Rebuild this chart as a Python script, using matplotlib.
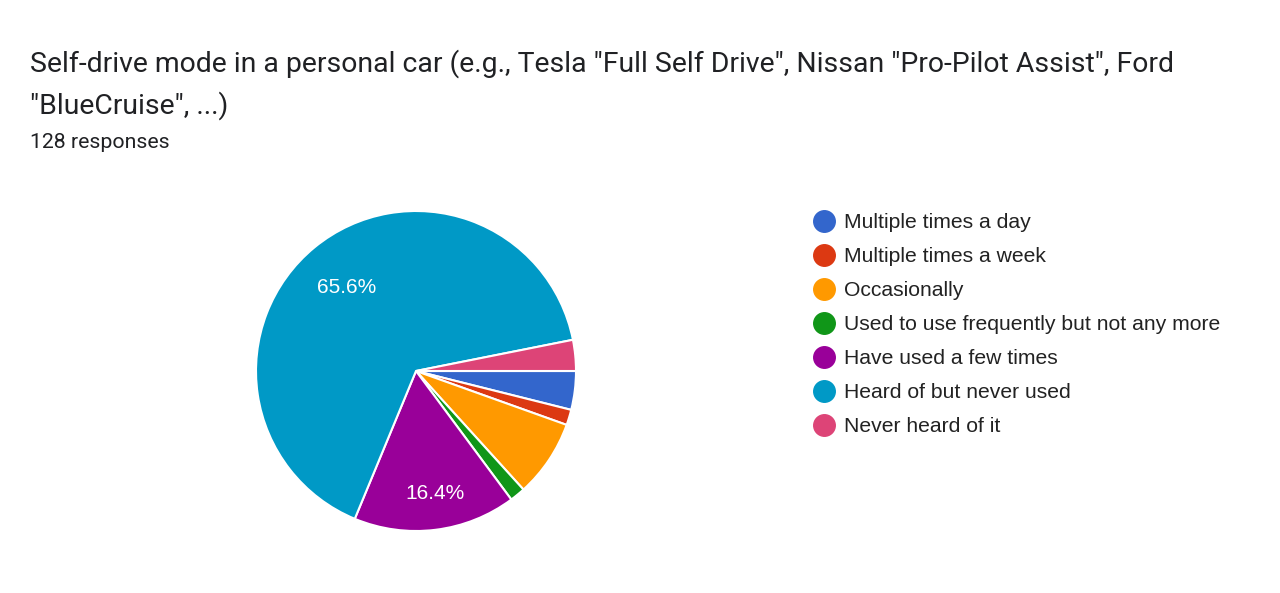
import numpy as np
import matplotlib.pyplot as plt

plt.rcParams['font.family'] = ['Liberation Sans', 'DejaVu Sans']

# survey answers (128 responses)
labels = ['Multiple times a day', 'Multiple times a week', 'Occasionally',
          'Used to use frequently but not any more', 'Have used a few times',
          'Heard of but never used', 'Never heard of it']
counts = [5, 2, 10, 2, 21, 84, 4]
colors = ['#3366cc', '#dc3912', '#ff9900', '#109618', '#990099', '#0099c6', '#dd4477']

W, H = 1280, 593
fig = plt.figure(figsize=(W / 100, H / 100), dpi=100)

# pie centre ~ (416, 371) px, radius 160 px
cx, cy, r = 416, 371, 160
ax = fig.add_axes([(cx - r) / W, (H - cy - r) / H, 2 * r / W, 2 * r / H])

def pct(p):
    return '%.1f%%' % p if p > 10 else ''

wedges, texts, autotexts = ax.pie(counts, colors=colors, startangle=0, counterclock=False,
                                  autopct=pct, pctdistance=0.73,
                                  wedgeprops=dict(edgecolor='white', linewidth=1.5),
                                  textprops=dict(color='white', fontsize=15))
for t in autotexts:
    x, y = t.get_position()
    t.set_position((x + 0.03, y - 0.04))
ax.set_xlim(-1, 1)
ax.set_ylim(-1, 1)
ax.set_aspect('equal')
ax.axis('off')

tfont = ['Roboto', 'DejaVu Sans']
fig.text(30 / W, 1 - 60 / H, 'Self-drive mode in a personal car (e.g., Tesla "Full Self Drive", Nissan "Pro-Pilot Assist", Ford',
         fontsize=20.4, va='center_baseline', ha='left', color='#202124', family=tfont)
fig.text(30 / W, 1 - 102 / H, '"BlueCruise", ...)', fontsize=20.4, va='center_baseline', ha='left',
         color='#202124', family=tfont)
fig.text(30 / W, 1 - 141 / H, '128 responses', fontsize=15.3, va='center_baseline', ha='left',
         color='#202124', family=tfont)

# legend
y0, dy = 221, 34
for i, (lab, col) in enumerate(zip(labels, colors)):
    y = 1 - (y0 + i * dy) / H
    fig.add_artist(plt.Line2D([824 / W], [y], marker='o', markersize=15.5, color=col,
                              linestyle='none', transform=fig.transFigure))
    fig.text(844 / W, y, lab, fontsize=15.25, va='center_baseline', ha='left', color='#222222')

plt.savefig('out.png', dpi=100)
